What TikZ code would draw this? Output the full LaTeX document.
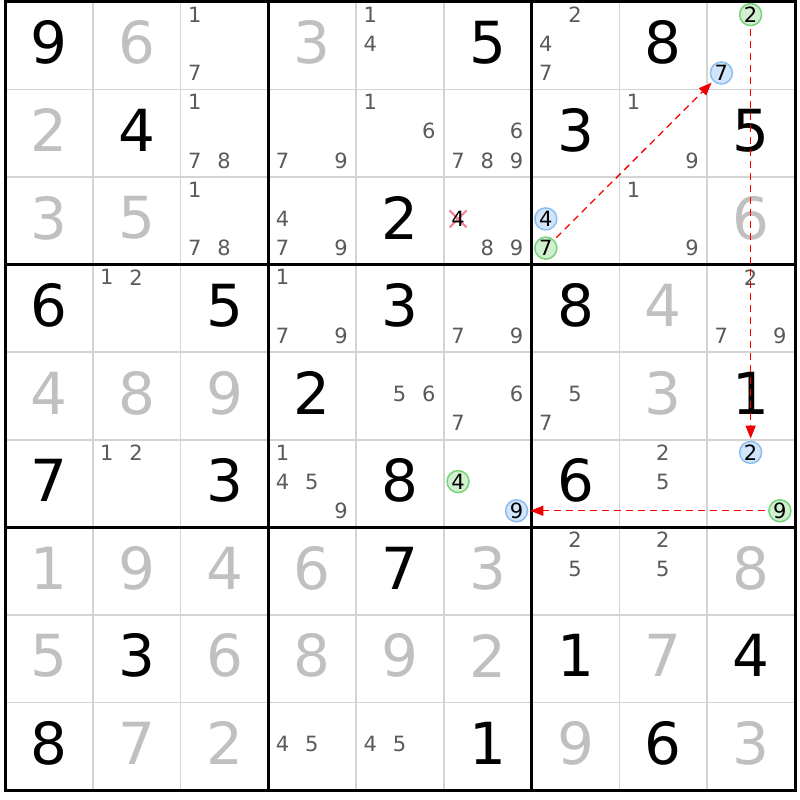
\documentclass[tikz,border=0pt]{standalone}
\usepackage{fontspec}
\setmainfont{DejaVu Sans}
\usetikzlibrary{arrows.meta,shapes.misc}
\definecolor{candc}{RGB}{90,90,90}
\definecolor{solvc}{RGB}{192,192,192}
\definecolor{gridc}{RGB}{212,212,212}
\definecolor{gfill}{RGB}{208,240,208}
\definecolor{gline}{RGB}{120,210,120}
\definecolor{bfill}{RGB}{208,228,250}
\definecolor{bline}{RGB}{140,190,240}
\definecolor{arrc}{RGB}{240,0,0}
\definecolor{crossc}{RGB}{245,130,140}
\newcommand\BigX[1]{5+(#1-0.5)*87.78}
\newcommand\BigY[1]{2+(#1-0.5)*87.56-3}
\newcommand\Given[3]{\node[given] (v-#1-#2) at ({\BigX{#1}},{\BigY{#2}}) {#3};}
\newcommand\Solved[3]{\node[solved] (v-#1-#2) at ({\BigX{#1}},{\BigY{#2}}) {#3};}
\newcommand\CandPos[3]{%
  \pgfmathtruncatemacro\cc{mod(#3-1,3)}%
  \pgfmathtruncatemacro\rr{(#3-1)/3}%
  \pgfmathsetmacro\px{5+(#1-1)*87.78+(\cc+0.5)*29.26-0.5}%
  \pgfmathsetmacro\py{2+(#2-1)*87.56+(\rr+0.5)*29.19-2}%
}
\newcommand\Cand[3]{\foreach \d in {#3}{\CandPos{#1}{#2}{\d}\node[cand] (k-#1-#2-\d) at (\px,\py) {\d};}}
\newcommand\Circ[5]{\CandPos{#2}{#3}{#4}\node[#1] (#5) at (\px,\py) {#4};}
\begin{document}
\begin{tikzpicture}[x=1pt,y=-1pt,
  given/.style={text=black,font=\fontsize{58}{58}\selectfont,inner sep=0},
  solved/.style={given,text=solvc},
  cand/.style={text=candc,font=\fontsize{21}{21}\selectfont,inner sep=0},
  gcirc/.style={circle,draw=gline,fill=gfill,line width=1.5pt,minimum size=22pt,inner sep=0,text=black,font=\fontsize{21}{21}\selectfont},
  bcirc/.style={gcirc,draw=bline,fill=bfill},
  thin grid/.style={draw=gridc,line width=1.6pt},
  box line/.style={draw=black,line width=3pt},
  link/.style={draw=arrc,line width=1.3pt,dash pattern=on 7pt off 5pt,-{Triangle[length=13pt,width=10pt]},shorten <=3pt,shorten >=2pt},
  crossmark/.style={cross out,draw=crossc,line width=2pt,minimum size=15pt,inner sep=0}]
\useasboundingbox (0,0) rectangle (800,800);
\fill[white] (0,0) rectangle (800,800);
% grid
\foreach \i in {1,2,4,5,7,8}{
  \draw[thin grid] ({5+\i*87.78},2) -- ({5+\i*87.78},790);
  \draw[thin grid] (5,{2+\i*87.56}) -- (795,{2+\i*87.56});
}
\foreach \i in {3,6}{
  \draw[box line] ({5+\i*87.78},2) -- ({5+\i*87.78},790);
  \draw[box line] (5,{2+\i*87.56}) -- (795,{2+\i*87.56});
}
\draw[box line] (5,2) rectangle (795,790);
% givens
\Given{1}{1}{9}\Given{6}{1}{5}\Given{8}{1}{8}
\Given{2}{2}{4}\Given{7}{2}{3}\Given{9}{2}{5}
\Given{5}{3}{2}
\Given{1}{4}{6}\Given{3}{4}{5}\Given{5}{4}{3}\Given{7}{4}{8}
\Given{4}{5}{2}\Given{9}{5}{1}
\Given{1}{6}{7}\Given{3}{6}{3}\Given{5}{6}{8}\Given{7}{6}{6}
\Given{5}{7}{7}
\Given{2}{8}{3}\Given{7}{8}{1}\Given{9}{8}{4}
\Given{1}{9}{8}\Given{6}{9}{1}\Given{8}{9}{6}
% solved
\Solved{2}{1}{6}\Solved{4}{1}{3}
\Solved{1}{2}{2}
\Solved{1}{3}{3}\Solved{2}{3}{5}\Solved{9}{3}{6}
\Solved{8}{4}{4}
\Solved{1}{5}{4}\Solved{2}{5}{8}\Solved{3}{5}{9}\Solved{8}{5}{3}
\Solved{1}{7}{1}\Solved{2}{7}{9}\Solved{3}{7}{4}\Solved{4}{7}{6}\Solved{6}{7}{3}\Solved{9}{7}{8}
\Solved{1}{8}{5}\Solved{3}{8}{6}\Solved{4}{8}{8}\Solved{5}{8}{9}\Solved{6}{8}{2}\Solved{8}{8}{7}
\Solved{2}{9}{7}\Solved{3}{9}{2}\Solved{7}{9}{9}\Solved{9}{9}{3}
% candidates
\Cand{3}{1}{1,7}\Cand{5}{1}{1,4}\Cand{7}{1}{2,4,7}
\Cand{3}{2}{1,7,8}\Cand{4}{2}{7,9}\Cand{5}{2}{1,6}\Cand{6}{2}{6,7,8,9}\Cand{8}{2}{1,9}
\Cand{3}{3}{1,7,8}\Cand{4}{3}{4,7,9}\Cand{6}{3}{8,9}\Cand{8}{3}{1,9}
\Cand{2}{4}{1,2}\Cand{4}{4}{1,7,9}\Cand{6}{4}{7,9}\Cand{9}{4}{2,7,9}
\Cand{5}{5}{5,6}\Cand{6}{5}{6,7}\Cand{7}{5}{5,7}
\Cand{2}{6}{1,2}\Cand{4}{6}{1,4,5,9}\Cand{8}{6}{2,5}
\Cand{7}{7}{2,5}\Cand{8}{7}{2,5}
\Cand{4}{9}{4,5}\Cand{5}{9}{4,5}
% eliminated candidate
\CandPos{6}{3}{4}
\node[crossmark] (elim) at (\px,\py) {};
\node[cand,text=black] (k-6-3-4) at (\px,\py) {4};
% circled candidates
\Circ{gcirc}{9}{1}{2}{ga}
\Circ{bcirc}{9}{1}{7}{bb}
\Circ{bcirc}{7}{3}{4}{bc}
\Circ{gcirc}{7}{3}{7}{gb}
\Circ{gcirc}{6}{6}{4}{gd}
\Circ{bcirc}{6}{6}{9}{bd}
\Circ{bcirc}{9}{6}{2}{be}
\Circ{gcirc}{9}{6}{9}{ge}
% links
\draw[link] (gb) -- (bb);
\draw[link] (ga) -- (be);
\draw[link] (ge) -- (bd);
\end{tikzpicture}
\end{document}
